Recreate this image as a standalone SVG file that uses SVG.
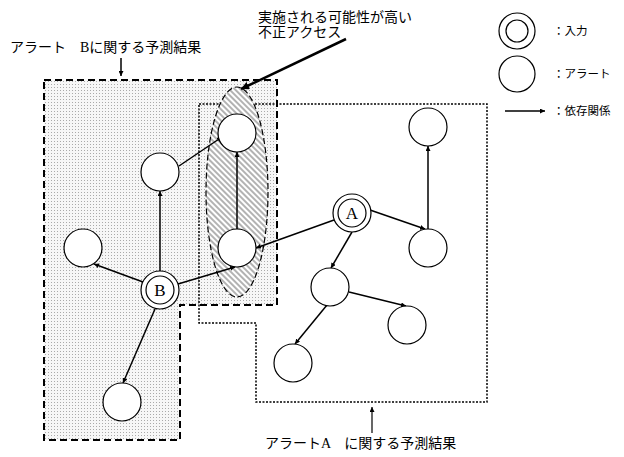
<svg xmlns="http://www.w3.org/2000/svg" width="624" height="457" viewBox="0 0 624 457">
<style>
.t{font-family:"Liberation Serif","Noto Sans CJK JP",serif;font-size:14px;fill:#000}
.s{font-family:"Liberation Serif","Noto Sans CJK JP",serif;font-size:11.5px;fill:#000}
.l{font-family:"Liberation Serif",serif;font-size:17px;fill:#000;text-anchor:middle}
.n{fill:#fff;stroke:#000;stroke-width:1.2}
.e{stroke:#000;stroke-width:1.5;fill:none;marker-end:url(#ah)}
</style>
<defs>
<pattern id="dots" width="3" height="3" patternUnits="userSpaceOnUse">
<rect width="3" height="3" fill="#f7f7f7"/>
<rect width="1" height="1" fill="#aaa"/>
</pattern>
<pattern id="hatch" width="4" height="4" patternUnits="userSpaceOnUse" patternTransform="rotate(45)">
<rect width="4" height="4" fill="#fff"/>
<line x1="0" y1="1" x2="4" y2="1" stroke="#666" stroke-width="1"/>
</pattern>
<marker id="ah" viewBox="0 0 10 10" refX="10" refY="5" markerWidth="5" markerHeight="5" orient="auto" markerUnits="userSpaceOnUse">
<path d="M0,0 L10,5 L0,10 z" fill="#000"/>
</marker>
<marker id="ah2" viewBox="0 0 10 10" refX="10" refY="5" markerWidth="8" markerHeight="8" orient="auto" markerUnits="userSpaceOnUse">
<path d="M0,0 L10,5 L0,10 z" fill="#000"/>
</marker>
</defs>
<rect width="624" height="457" fill="#fff"/>

<g id="regionB">
<path d="M44,80 L277,80 L277,305 L180,305 L180,440 L44,440 Z" fill="url(#dots)" stroke="#000" stroke-width="2" stroke-dasharray="7,4"/>
</g>
<g id="regionA">
<path d="M199,104 L487,104 L487,402 L256,402 L256,323 L199,323 Z" fill="none" stroke="#000" stroke-width="1.5" stroke-dasharray="2,1.5"/>
</g>
<g id="ellipse">
<ellipse cx="237" cy="192" rx="31" ry="105" fill="url(#hatch)" stroke="#000" stroke-width="1.2" stroke-dasharray="6,3"/>
</g>

<g id="labels">
<text class="t" x="10" y="52">アラート　Bに関する予測結果</text>
<text class="t" x="258" y="22">実施される可能性が高い</text>
<text class="t" x="258" y="37">不正アクセス</text>
<text class="t" x="265" y="448">アラートA　に関する予測結果</text>
</g>

<g id="connectors">
<line class="e" x1="121" y1="58" x2="121" y2="76" stroke-width="1.2"/>
<line x1="372" y1="433" x2="372" y2="407" stroke="#000" stroke-width="1.2" marker-end="url(#ah)"/>
<line x1="346" y1="39" x2="241" y2="89" stroke="#000" stroke-width="2.5" marker-end="url(#ah2)"/>
<line class="e" x1="143" y1="282" x2="94" y2="264"/>
<line class="e" x1="160" y1="271" x2="160" y2="191"/>
<line class="e" x1="178" y1="284" x2="235" y2="267"/>
<line class="e" x1="155" y1="309" x2="123" y2="383"/>
<line class="e" x1="179" y1="166" x2="222" y2="137"/>
<line class="e" x1="237" y1="229" x2="237" y2="152"/>
<line class="e" x1="334" y1="220" x2="256" y2="248"/>
<line class="e" x1="370" y1="210" x2="425" y2="229"/>
<line class="e" x1="428" y1="229" x2="428" y2="146"/>
<line class="e" x1="352" y1="232" x2="331" y2="268"/>
<line class="e" x1="349" y1="292" x2="406" y2="306"/>
<line class="e" x1="327" y1="305" x2="295" y2="344"/>
<line class="e" x1="505" y1="111" x2="545" y2="111"/>
</g>

<g id="n1"><circle class="n" cx="237" cy="133" r="19"/></g>
<g id="n2"><circle class="n" cx="160" cy="172" r="19"/></g>
<g id="n3"><circle class="n" cx="83" cy="248" r="19"/></g>
<g id="n4"><circle class="n" cx="237" cy="248" r="19"/></g>
<g id="nB"><circle class="n" cx="160" cy="290" r="19"/><circle class="n" cx="160" cy="290" r="14"/><text class="l" x="160" y="296">B</text></g>
<g id="nA"><circle class="n" cx="352" cy="213" r="19"/><circle class="n" cx="352" cy="213" r="14"/><text class="l" x="352" y="219">A</text></g>
<g id="n5"><circle class="n" cx="428" cy="248" r="19"/></g>
<g id="n6"><circle class="n" cx="428" cy="127" r="19"/></g>
<g id="n7"><circle class="n" cx="330" cy="287" r="19"/></g>
<g id="n8"><circle class="n" cx="407" cy="325" r="19"/></g>
<g id="n9"><circle class="n" cx="293" cy="363" r="19"/></g>
<g id="n10"><circle class="n" cx="122" cy="402" r="19"/></g>

<g id="legend">
<circle class="n" cx="517" cy="31" r="18"/><circle class="n" cx="517" cy="31" r="11"/>
<text class="s" x="553" y="35">：入力</text>
<circle class="n" cx="517" cy="74" r="18"/>
<text class="s" x="553" y="78">：アラート</text>
<text class="s" x="553" y="115">：依存関係</text>
</g>
</svg>
